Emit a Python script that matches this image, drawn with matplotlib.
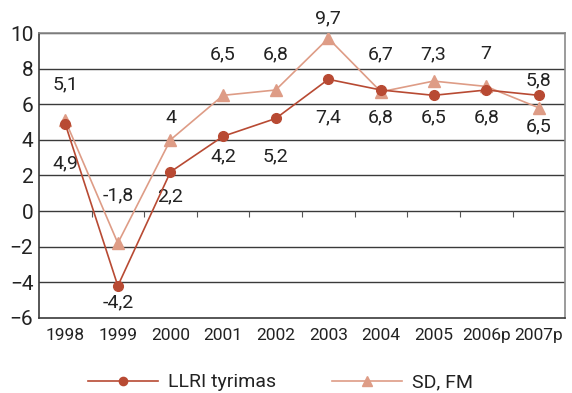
import matplotlib
matplotlib.use("Agg")
import matplotlib.pyplot as plt
import numpy as np

plt.rcParams['font.family'] = ['Liberation Sans Narrow', 'Roboto', 'DejaVu Sans']

years = ['1998', '1999', '2000', '2001', '2002', '2003', '2004', '2005', '2006p', '2007p']
llri = [4.9, -4.2, 2.2, 4.2, 5.2, 7.4, 6.8, 6.5, 6.8, 6.5]
sd_fm = [5.1, -1.8, 4.0, 6.5, 6.8, 9.7, 6.7, 7.3, 7.0, 5.8]

# where the value labels sit (data units)
sd_label_y = [7.1, 0.9, 5.2, 8.8, 8.8, 10.85, 8.8, 8.8, 8.8, 7.35]
llri_label_y = [2.7, -5.1, 0.85, 3.05, 3.05, 5.25, 5.25, 5.25, 5.25, 4.75]

c_llri = '#B84A33'
c_sd = '#DE9C86'
grid_c = '#3a3a3a'

fig = plt.figure(figsize=(5.72, 3.93), dpi=100)
ax = fig.add_axes([0.068, 0.191, 0.92, 0.725])

x = np.arange(len(years))

for v in np.arange(-4, 11, 2):
    ax.axhline(v, color=grid_c, lw=1.0, zorder=1)

# short category dividers on the zero line
ax.vlines(x[:-1] + 0.5, -0.35, 0, color='#555555', lw=0.8, zorder=1)

ax.plot(x, sd_fm, color=c_sd, lw=1.2, marker='^', ms=9, zorder=3, label='SD, FM')
ax.plot(x, llri, color=c_llri, lw=1.2, marker='o', ms=7, zorder=4, label='LLRI tyrimas')

fmt = lambda v: ('%g' % v).replace('.', ',')
for i in range(len(years)):
    ax.text(x[i], sd_label_y[i], fmt(sd_fm[i]), ha='center', va='center',
            fontsize=14, color='#222222')
    ax.text(x[i], llri_label_y[i], fmt(llri[i]), ha='center', va='center',
            fontsize=14, color='#222222')

ax.set_xlim(-0.5, len(years) - 0.5)
ax.set_ylim(-6, 10)
ax.set_yticks(np.arange(-6, 11, 2))
ax.set_xticks(x)
ax.set_xticklabels(years, fontsize=12.5, color='#222222')
ax.tick_params(axis='y', labelsize=15, length=0, pad=4, labelcolor='#222222')
ax.tick_params(axis='x', length=0, pad=7)

ax.spines['left'].set_color(grid_c)
ax.spines['bottom'].set_color(grid_c)
ax.spines['top'].set_color('#8a8a8a')
ax.spines['right'].set_color('#8a8a8a')
for s in ax.spines.values():
    s.set_linewidth(1.2)

h, l = ax.get_legend_handles_labels()
leg = fig.legend(h[::-1], l[::-1], loc='center', bbox_to_anchor=(0.49, 0.027), ncol=2,
                 frameon=False, fontsize=14, handlelength=3.6, columnspacing=2.9,
                 handletextpad=0.5, markerscale=0.85)
for t in leg.get_texts():
    t.set_color('#222222')

fig.savefig('out.png', dpi=100)
